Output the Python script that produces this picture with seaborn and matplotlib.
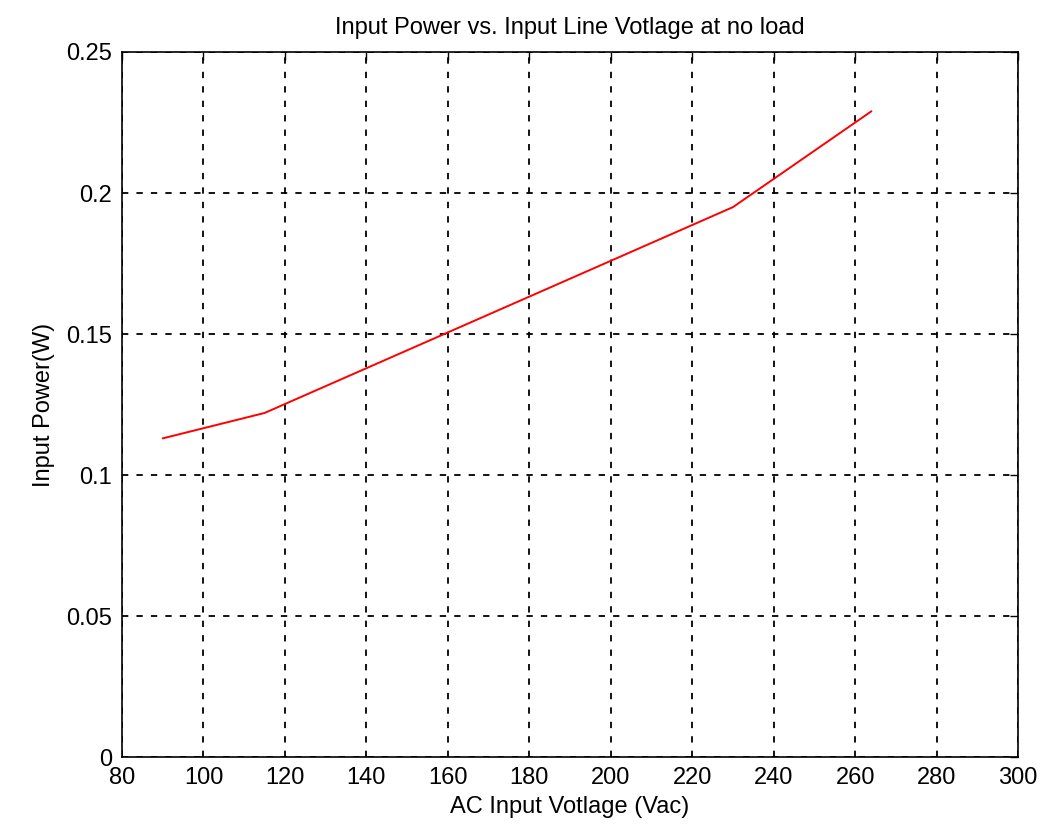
import matplotlib
matplotlib.use("Agg")
import matplotlib.pyplot as plt
import seaborn as sns
import pandas as pd

voltage = [90, 115, 230, 264]
power = [0.113, 0.122, 0.195, 0.229]
x_ticks = [80, 100, 120, 140, 160, 180, 200, 220, 240, 260, 280, 300]
y_ticks = [0, 0.05, 0.1, 0.15, 0.2, 0.25]
y_tick_labels = ["0", "0.05", "0.1", "0.15", "0.2", "0.25"]

sns.set_style("white")
plt.rcParams['font.family'] = ['Liberation Sans', 'DejaVu Sans']
plt.rcParams['text.color'] = 'black'
plt.rcParams['axes.labelcolor'] = 'black'

df = pd.DataFrame({"V": voltage, "P": power})

fig = plt.figure(figsize=(10.41, 8.32), dpi=100)
ax = fig.add_axes([0.1172, 0.0901, 0.9780 - 0.1172, 0.9375 - 0.0901])
sns.lineplot(data=df, x="V", y="P", ax=ax, color="red", linewidth=1.4, sort=False)

ax.set_xlim(80, 300)
ax.set_ylim(0, 0.25)
ax.set_xticks(x_ticks)
ax.set_xticklabels([str(t) for t in x_ticks])
ax.set_yticks(y_ticks)
ax.set_yticklabels(y_tick_labels)
ax.tick_params(direction="in", length=6, width=1, colors="black", labelsize=17,
               top=True, right=True, pad=7)
ax.grid(True, color="black", linestyle=(0, (3.5, 4.5)), linewidth=1.3)
for s in ax.spines.values():
    s.set_color("black")
    s.set_linewidth(1.2)
ax.set_xlabel("AC Input Votlage (Vac)", fontsize=17, labelpad=5, color="black")
ax.set_ylabel("Input Power(W)", fontsize=17, labelpad=8, color="black")
ax.set_title("Input Power vs. Input Line Votlage at no load", fontsize=17, pad=13, color="black")

fig.savefig("out.png", dpi=100)
